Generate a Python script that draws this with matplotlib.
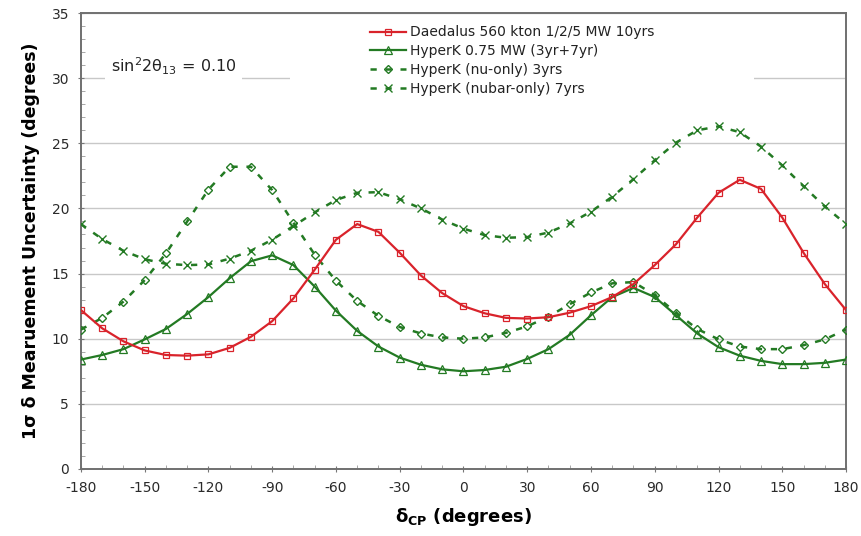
import numpy as np
import matplotlib
matplotlib.use('Agg')
import matplotlib.pyplot as plt
import matplotlib.patches as patches
from matplotlib.ticker import MultipleLocator

plt.rcParams['axes.unicode_minus'] = False

# delta_CP grid (degrees), one point every 10 degrees
delta_cp = list(range(-180, 181, 10))

daedalus = [12.2, 10.8, 9.8, 9.1, 8.75, 8.7, 8.8, 9.3, 10.15, 11.35, 13.1, 15.3,
            17.6, 18.8, 18.2, 16.6, 14.85, 13.5, 12.5, 11.95, 11.6, 11.55, 11.65,
            12.0, 12.5, 13.2, 14.2, 15.65, 17.25, 19.3, 21.2, 22.2, 21.5, 19.3,
            16.6, 14.2, 12.2]
hyperk_all = [8.4, 8.75, 9.2, 9.95, 10.75, 11.9, 13.2, 14.65, 15.95, 16.4, 15.65,
              14.0, 12.15, 10.6, 9.4, 8.55, 8.0, 7.65, 7.5, 7.6, 7.85, 8.45, 9.2,
              10.3, 11.8, 13.2, 13.9, 13.2, 11.8, 10.4, 9.35, 8.7, 8.3, 8.05,
              8.05, 8.15, 8.4]
hyperk_nu = [10.7, 11.6, 12.85, 14.5, 16.55, 19.0, 21.45, 23.2, 23.2, 21.4, 18.9,
             16.45, 14.45, 12.9, 11.75, 10.9, 10.4, 10.1, 10.0, 10.1, 10.45, 10.95,
             11.7, 12.65, 13.55, 14.25, 14.35, 13.35, 12.0, 10.75, 9.95, 9.4, 9.2,
             9.2, 9.5, 9.95, 10.7]
hyperk_nubar = [18.8, 17.65, 16.75, 16.1, 15.75, 15.65, 15.7, 16.15, 16.75, 17.6,
                18.65, 19.7, 20.65, 21.2, 21.25, 20.7, 20.0, 19.15, 18.45, 17.95,
                17.75, 17.8, 18.15, 18.85, 19.75, 20.9, 22.25, 23.7, 25.05, 26.0,
                26.3, 25.85, 24.75, 23.3, 21.7, 20.15, 18.8]

labels = ['Daedalus 560 kton 1/2/5 MW 10yrs',
          'HyperK 0.75 MW (3yr+7yr)',
          'HyperK (nu-only) 3yrs',
          'HyperK (nubar-only) 7yrs']

RED = '#d9232b'
GREEN = '#237a23'

fig = plt.figure(figsize=(8.61, 5.36), dpi=100)
ax = fig.add_axes([0.094, 0.125, 0.8886, 0.8507])

# Curves
ax.plot(delta_cp, daedalus, color=RED, lw=1.6, marker='s', ms=5,
        mfc='none', mec=RED, mew=0.9, label=labels[0], zorder=5)
ax.plot(delta_cp, hyperk_all, color=GREEN, lw=1.6, marker='^', ms=6,
        mfc='none', mec=GREEN, mew=0.9, label=labels[1], zorder=4)
ax.plot(delta_cp, hyperk_nu, color=GREEN, lw=1.8, ls=(0, (2.5, 3.5)), marker='D', ms=4,
        mfc='none', mec=GREEN, mew=1.0, label=labels[2], zorder=4)
ax.plot(delta_cp, hyperk_nubar, color=GREEN, lw=1.8, ls=(0, (2.5, 3.5)), marker='x', ms=5.5,
        mfc='none', mec=GREEN, mew=1.0, label=labels[3], zorder=4)

# Axes limits and ticks
ax.set_xlim(-180, 180)
ax.set_ylim(0, 35)
ax.xaxis.set_major_locator(MultipleLocator(30))
ax.xaxis.set_minor_locator(MultipleLocator(10))
ax.yaxis.set_major_locator(MultipleLocator(5))
ax.yaxis.set_minor_locator(MultipleLocator(1))
ax.tick_params(axis='both', which='major', labelsize=10, labelcolor='#2a2a2a',
               color='#777777', direction='inout', length=5, pad=6)
ax.tick_params(axis='both', which='minor', color='#999999', direction='in', length=3)

ax.grid(True, axis='y', which='major', color='#c8c8c8', lw=1.0, zorder=0)
ax.set_axisbelow(True)
for s in ax.spines.values():
    s.set_color('#707070')
    s.set_linewidth(1.4)

# White patch hiding the gridline behind the legend area
ax.add_patch(patches.Rectangle((0.273, 0.835), 0.607, 0.04, transform=ax.transAxes,
                               facecolor='white', edgecolor='none', zorder=1))

ax.text(-166, 30.9, r'sin$^2$2θ$_{13}$ = 0.10', fontsize=11.5, color='#222222',
        va='center', ha='left', zorder=3,
        bbox=dict(facecolor='white', edgecolor='none', pad=4))

leg = ax.legend(loc='upper left', bbox_to_anchor=(0.37, 0.985), frameon=False,
                fontsize=10, handlelength=2.6, handletextpad=0.3, labelspacing=0.35,
                borderaxespad=0)
for t in leg.get_texts():
    t.set_color('#222222')

ax.set_xlabel(r'$\mathbf{\delta_{CP}}$ (degrees)', fontsize=13, fontweight='bold', labelpad=8)
ax.set_ylabel('1σ δ Mearuement Uncertainty (degrees)', fontsize=12.5,
              fontweight='bold', labelpad=8)

fig.savefig('out.png', dpi=100)
